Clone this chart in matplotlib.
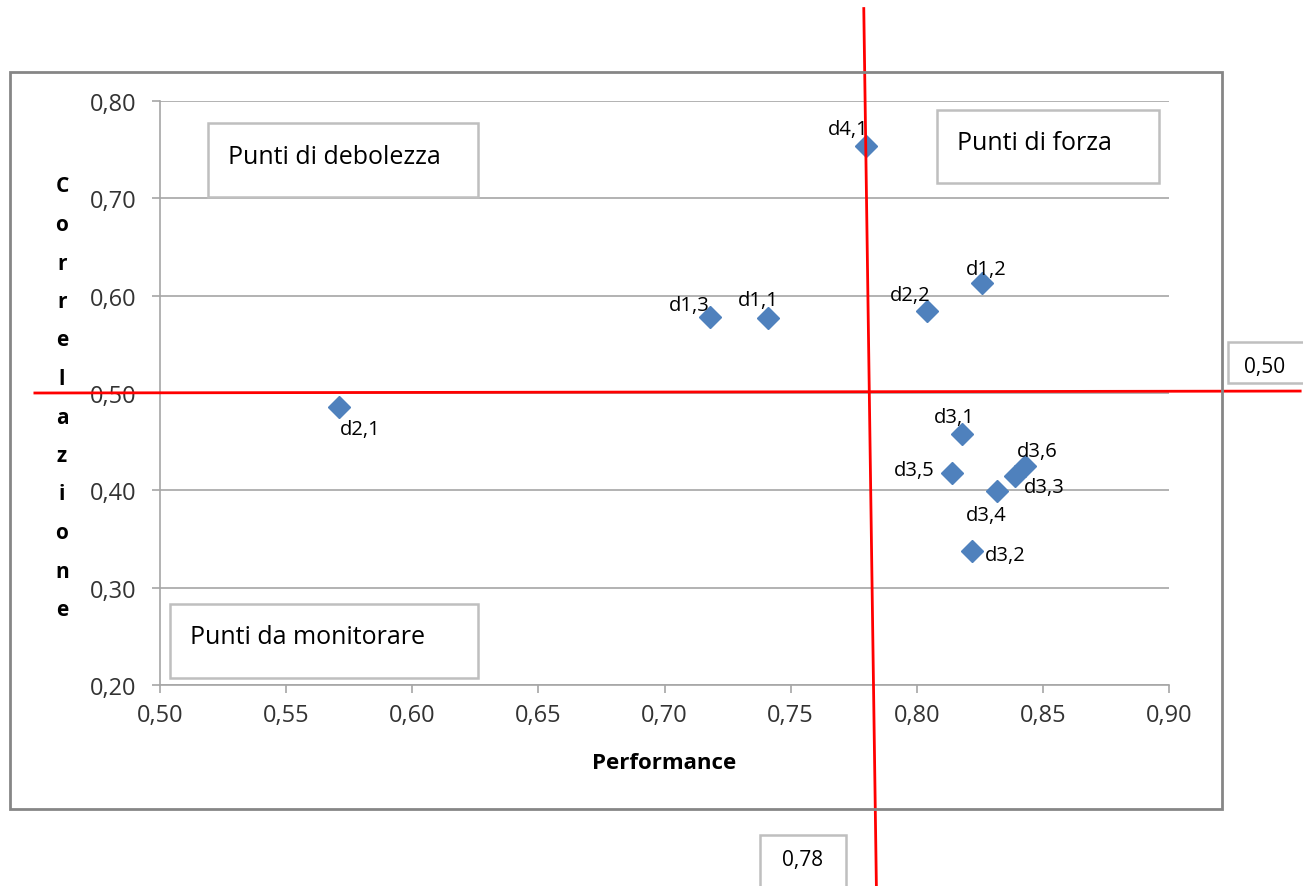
import matplotlib
matplotlib.use('Agg')
import matplotlib.pyplot as plt
from matplotlib.patches import Rectangle
from matplotlib.lines import Line2D
from matplotlib.ticker import FuncFormatter, MultipleLocator

plt.rcParams['font.family'] = ['Open Sans', 'DejaVu Sans']

# data
labels = ['d4,1', 'd2,2', 'd1,2', 'd1,3', 'd1,1', 'd2,1',
          'd3,1', 'd3,5', 'd3,6', 'd3,3', 'd3,4', 'd3,2']
performance = [0.780, 0.804, 0.826, 0.718, 0.741, 0.571,
               0.818, 0.814, 0.843, 0.839, 0.832, 0.822]
correlazione = [0.754, 0.584, 0.613, 0.578, 0.577, 0.486,
                0.458, 0.418, 0.425, 0.415, 0.399, 0.338]
perf_threshold = 0.78
corr_threshold = 0.50

# label offsets in points (dx, dy)
offsets = [(-13, 12), (-12, 12), (3, 10), (-15, 9), (-7, 13), (15, -16),
           (-6, 12), (-27, 2), (9, 11), (21, -8), (-8, -17), (24, -3)]

W, H = 1303, 887
fig = plt.figure(figsize=(W / 100, H / 100), dpi=100)


def fx(px):
    return px / W


def fy(py):
    return 1 - py / H


# outer chart border
fig.add_artist(Rectangle((fx(10), fy(810)), fx(1222) - fx(10), fy(73) - fy(810),
                         transform=fig.transFigure, fill=False,
                         edgecolor='#868686', lw=2))

ax = fig.add_axes([fx(160), fy(686), fx(1169) - fx(160), fy(102) - fy(686)])
ax.set_xlim(0.50, 0.90)
ax.set_ylim(0.20, 0.80)
ax.xaxis.set_major_locator(MultipleLocator(0.05))
ax.yaxis.set_major_locator(MultipleLocator(0.10))
fmt = FuncFormatter(lambda v, p: f'{v:.2f}'.replace('.', ','))
ax.xaxis.set_major_formatter(fmt)
ax.yaxis.set_major_formatter(fmt)

grid_col = '#A6A6A6'
ax.grid(axis='y', color=grid_col, lw=1.2)
ax.set_axisbelow(True)
for s in ['top', 'right']:
    ax.spines[s].set_visible(False)
for s in ['left', 'bottom']:
    ax.spines[s].set_color(grid_col)
    ax.spines[s].set_linewidth(1.2)
ax.tick_params(axis='both', direction='out', length=6, width=1.2, color=grid_col,
               labelsize=17, labelcolor='#333333')
ax.tick_params(axis='x', pad=7)
ax.tick_params(axis='y', pad=11)

ax.plot(performance, correlazione, linestyle='none', marker='D',
        markersize=11, color='#4F81BD', zorder=3)
for lab, x, y, (dx, dy) in zip(labels, performance, correlazione, offsets):
    ax.annotate(lab, (x, y), xytext=(dx, dy), textcoords='offset points',
                ha='center', va='center', fontsize=14.5, color='black', zorder=4)

# threshold lines (hand-drawn in the original, slightly tilted)
ax.add_line(Line2D([perf_threshold - 0.001, perf_threshold + 0.004], [0.895, -0.007],
                   color='red', lw=2, clip_on=False, zorder=5))
ax.add_line(Line2D([0.4504, 0.952], [corr_threshold, corr_threshold + 0.002],
                   color='red', lw=2, clip_on=False, zorder=5))

ax.set_xlabel('Performance', fontsize=16, fontweight='bold', va='center')
ax.xaxis.set_label_coords(0.4995, -0.132)

# vertical stacked y label
for i, ch in enumerate('Correlazione'):
    fig.text(fx(62), fy(187 + i * 38.5), ch, ha='center', va='center',
             fontsize=15, fontweight='bold')


def text_box(x0, y0, x1, y1, txt, tx, size):
    fig.add_artist(Rectangle((fx(x0), fy(y1)), fx(x1) - fx(x0), fy(y0) - fy(y1),
                             transform=fig.transFigure, facecolor='white',
                             edgecolor='#BFBFBF', lw=1.8, zorder=6))
    t = fig.text(fx(tx), fy((y0 + y1) / 2 - 4), txt, ha='left', va='center',
                 fontsize=size, zorder=7)
    return t


text_box(208, 124, 478, 198, 'Punti di debolezza', 228, 18)
text_box(937, 111, 1159, 184, 'Punti di forza', 957, 18)
text_box(170, 605, 478, 679, 'Punti da monitorare', 190, 18)

for (x0, y0, x1, y1, txt) in [(1228, 343, 1310, 384, '0,50'),
                              (760, 836, 846, 895, '0,78')]:
    fig.add_artist(Rectangle((fx(x0), fy(y1)), fx(x1) - fx(x0), fy(y0) - fy(y1),
                             transform=fig.transFigure, facecolor='white',
                             edgecolor='#BFBFBF', lw=1.8, zorder=6))
    fig.text(fx(x0 + 37 if txt == '0,50' else (x0 + x1) / 2), fy(y0 + 25), txt,
             ha='center', va='center', fontsize=15, zorder=7)

fig.savefig('out.png', dpi=100)
